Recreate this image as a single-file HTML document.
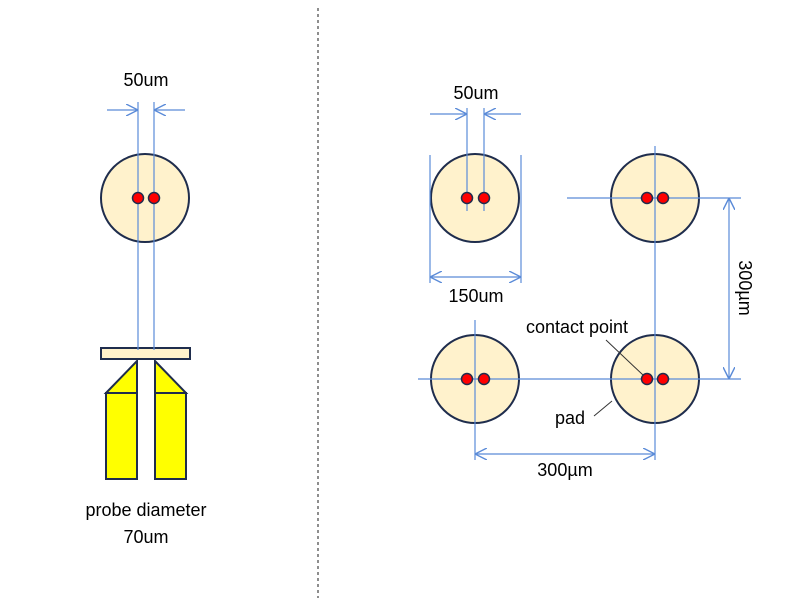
<!DOCTYPE html>
<html><head><meta charset="utf-8"><style>
body{margin:0;background:#fff}
svg text{font-family:"Liberation Sans",sans-serif;font-size:18px;fill:#000}
</style></head><body>
<svg width="800" height="600" viewBox="0 0 800 600" xmlns="http://www.w3.org/2000/svg">
<defs>
<marker id="a" viewBox="0 0 10 10" refX="10" refY="5" markerWidth="12" markerHeight="12" markerUnits="userSpaceOnUse" orient="auto-start-reverse">
<path d="M0,0 L10,5 L0,10" fill="none" stroke="#5b8bd8" stroke-width="1.2"/></marker>
</defs>
<line x1="318" y1="8" x2="318" y2="598" stroke="#444" stroke-width="1.2" stroke-dasharray="3,3"/>
<g fill="#fff2cc" stroke="#1f2d4d" stroke-width="2">
<circle cx="145" cy="198" r="44"/>
<circle cx="475" cy="198" r="44"/>
<circle cx="655" cy="198" r="44"/>
<circle cx="475" cy="379" r="44"/>
<circle cx="655" cy="379" r="44"/>
<rect x="101" y="348" width="89" height="11"/>
</g>
<g fill="#ffff00" stroke="#1f2d4d" stroke-width="2">
<path d="M106,393 L137,361 L137,393 Z"/><rect x="106" y="393" width="31" height="86"/>
<path d="M155,361 L186,393 L155,393 Z"/><rect x="155" y="393" width="31" height="86"/>
</g>
<g stroke="#5b8bd8" stroke-width="1.2" fill="none">
<line x1="138" y1="102" x2="138" y2="350"/><line x1="154" y1="102" x2="154" y2="350"/>
<line x1="107" y1="110" x2="138" y2="110" marker-end="url(#a)"/><line x1="185" y1="110" x2="154" y2="110" marker-end="url(#a)"/>
<line x1="467" y1="108" x2="467" y2="211"/><line x1="484" y1="108" x2="484" y2="211"/>
<line x1="430" y1="114" x2="467" y2="114" marker-end="url(#a)"/><line x1="521" y1="114" x2="484" y2="114" marker-end="url(#a)"/>
<line x1="430" y1="155" x2="430" y2="283"/><line x1="521" y1="155" x2="521" y2="283"/>
<line x1="430" y1="277" x2="521" y2="277" marker-start="url(#a)" marker-end="url(#a)"/>
<line x1="567" y1="198" x2="741" y2="198"/><line x1="655" y1="146" x2="655" y2="460"/>
<line x1="729" y1="198" x2="729" y2="379" marker-start="url(#a)" marker-end="url(#a)"/>
<line x1="418" y1="379" x2="741" y2="379"/><line x1="475" y1="320" x2="475" y2="460"/>
<line x1="475" y1="454" x2="655" y2="454" marker-start="url(#a)" marker-end="url(#a)"/>
</g>
<g fill="#ff0000" stroke="#1f2d4d" stroke-width="1.5">
<circle cx="138" cy="198" r="5.5"/><circle cx="154" cy="198" r="5.5"/>
<circle cx="467" cy="198" r="5.5"/><circle cx="484" cy="198" r="5.5"/>
<circle cx="647" cy="198" r="5.5"/><circle cx="663" cy="198" r="5.5"/>
<circle cx="467" cy="379" r="5.5"/><circle cx="484" cy="379" r="5.5"/>
<circle cx="647" cy="379" r="5.5"/><circle cx="663" cy="379" r="5.5"/>
</g>
<g stroke="#333" stroke-width="1"><line x1="606" y1="340" x2="643" y2="375"/><line x1="594" y1="416" x2="612" y2="401"/></g>
<g text-anchor="middle">
<text x="146" y="86">50um</text>
<text x="146" y="516">probe diameter</text>
<text x="146" y="543">70um</text>
<text x="476" y="99">50um</text>
<text x="476" y="302">150um</text>
<text x="565" y="476">300µm</text>
<text x="577" y="333">contact point</text>
<text x="570" y="424">pad</text>
<text transform="translate(739,288) rotate(90)">300µm</text>
</g>
</svg>
</body></html>
